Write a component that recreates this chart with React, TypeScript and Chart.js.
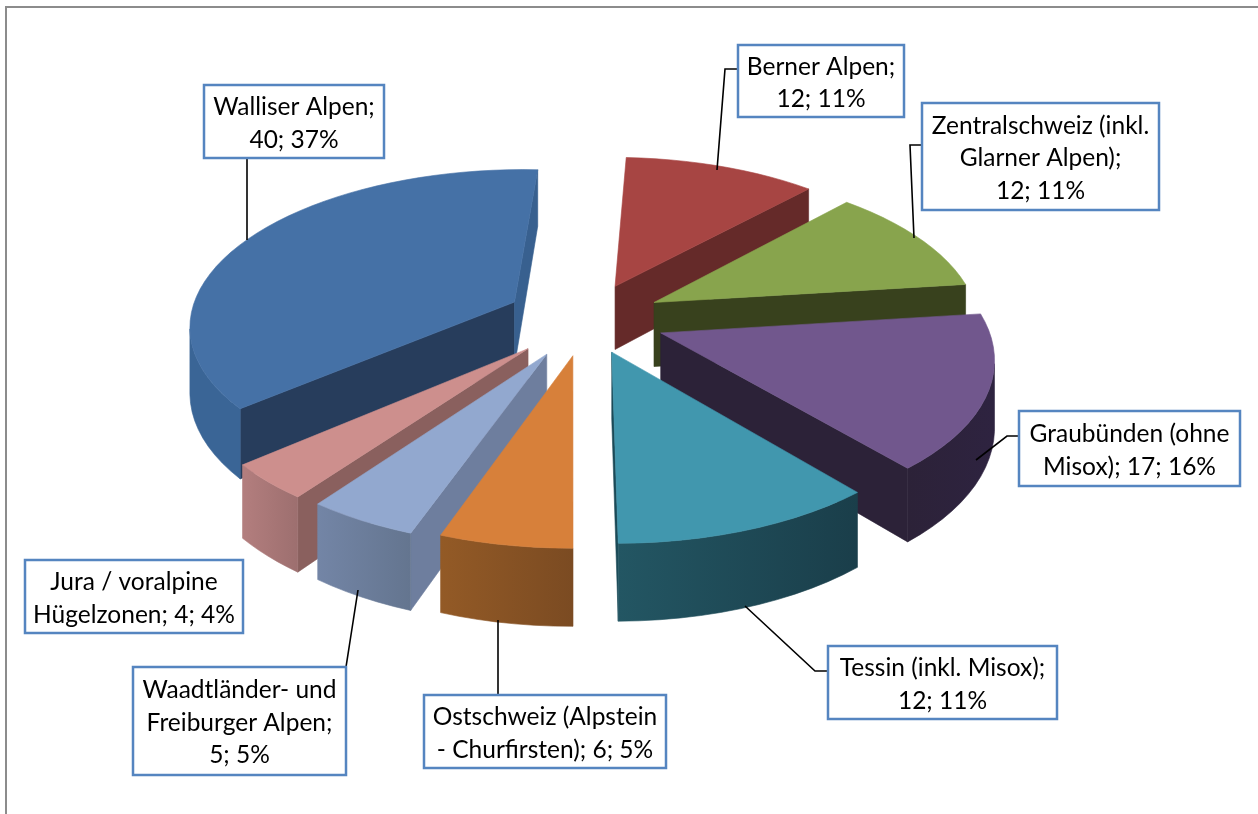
import React, { useEffect, useRef } from "react";
import { Chart, registerables } from "chart.js";

Chart.register(...registerables);

const categories = ["Berner Alpen", "Zentralschweiz (inkl. Glarner Alpen)", "Graubünden (ohne Misox)", "Tessin (inkl. Misox)", "Ostschweiz (Alpstein - Churfirsten)", "Waadtländer- und Freiburger Alpen", "Jura / voralpine Hügelzonen", "Walliser Alpen"];
const values = [12, 12, 17, 12, 6, 5, 4, 40];
const sliceOffsets = [85, 86, 88, 80, 84, 90, 92, 90];
const labelLines = [
  ["Berner Alpen;", "12; 11%"],
  ["Zentralschweiz (inkl.", "Glarner Alpen);", "12; 11%"],
  ["Graubünden (ohne", "Misox); 17; 16%"],
  ["Tessin (inkl. Misox);", "12; 11%"],
  ["Ostschweiz (Alpstein", "- Churfirsten); 6; 5%"],
  ["Waadtländer- und", "Freiburger Alpen;", "5; 5%"],
  ["Jura / voralpine", "Hügelzonen; 4; 4%"],
  ["Walliser Alpen;", "40; 37%"],
];
const topColors = ["#A74543", "#88A44D", "#71578D", "#4197AE", "#D7803A", "#92A8CF", "#CD8F8D", "#4571A6"];
const innerColors = ["#652A29", "#38411D", "#2C2238", "#1B4A57", "#935A26", "#6E7E9E", "#8A605E", "#273D5C"];
const endWallColors = ["#652A29", "#38411D", "#2C2238", "#1B4A57", "#935A26", "#6E7E9E", "#8A605E", "#38608F"];
const rimLeftColors = ["#652A29", "#38411D", "#2C2238", "#235663", "#935A26", "#7385A6", "#B37E7E", "#3A6596"];
const rimRightColors = ["#652A29", "#38411D", "#2E2340", "#1A3E4A", "#7B4B22", "#64758F", "#9D6F6F", "#3A6596"];
const labelBoxes = [
  [738, 45, 904, 117],
  [922, 103, 1159, 210],
  [1019, 411, 1240, 486],
  [828, 646, 1057, 719],
  [424, 695, 666, 768],
  [133, 667, 346, 775],
  [25, 560, 243, 633],
  [204, 85, 384, 158],
];
const leaderLines = [
  [[738, 69], [725, 69], [717, 170]],
  [[922, 145], [910, 145], [914, 238]],
  [[1019, 436], [1007, 436], [976, 460]],
  [[828, 671], [815, 671], [745, 606]],
  [[498, 695], [498, 620]],
  [[346, 667], [358, 590]],
  [],
  [[247, 158], [247, 240]],
];

const CX = 586, CY = 319, SX = 325, SY = 155, PERSP = 0.137, DEPTH = 65;

function project(X: number, Y: number, drop: number) {
  const w = 1 - PERSP * Y;
  return { x: CX + (SX * X) / w, y: CY + (SY * Y) / w + (drop * DEPTH) / w };
}

const pie3d = {
  id: "pie3d",
  beforeDatasetDraw(chart: any) {
    const { ctx } = chart;
    const arcs = chart.getDatasetMeta(0).data as any[];
    const shapes = arcs.map((el, i) => {
      const mid = (el.startAngle + el.endAngle) / 2;
      const ex = (el.options.offset || 0) / el.outerRadius;
      const ox = Math.cos(mid) * ex, oy = Math.sin(mid) * ex;
      const n = Math.max(6, Math.round(((el.endAngle - el.startAngle) / Math.PI) * 60));
      const pts: [number, number][] = [];
      for (let k = 0; k <= n; k++) {
        const a = el.startAngle + ((el.endAngle - el.startAngle) * k) / n;
        pts.push([ox + Math.cos(a), oy + Math.sin(a)]);
      }
      return { i, sort: Math.sin(mid), ox, oy, pts };
    });
    shapes.sort((a, b) => a.sort - b.sort);

    const fillPoly = (poly: { x: number; y: number }[], fill: any) => {
      ctx.beginPath();
      poly.forEach((p, j) => (j ? ctx.lineTo(p.x, p.y) : ctx.moveTo(p.x, p.y)));
      ctx.closePath();
      ctx.fillStyle = fill;
      ctx.strokeStyle = fill;
      ctx.lineWidth = 0.6;
      ctx.fill();
      ctx.stroke();
    };
    const wall = (a: [number, number], b: [number, number], fill: string) => {
      const a0 = project(a[0], a[1], 0), b0 = project(b[0], b[1], 0);
      if (b0.x - a0.x >= 0) return;
      fillPoly([a0, b0, project(b[0], b[1], 1), project(a[0], a[1], 1)], fill);
    };

    ctx.save();
    for (const s of shapes) {
      const apex: [number, number] = [s.ox, s.oy];
      wall(apex, s.pts[0], innerColors[s.i]);
      wall(s.pts[s.pts.length - 1], apex, endWallColors[s.i]);
      const topEdge: { x: number; y: number }[] = [];
      const botEdge: { x: number; y: number }[] = [];
      for (let k = 0; k < s.pts.length - 1; k++) {
        const p = project(s.pts[k][0], s.pts[k][1], 0);
        const q = project(s.pts[k + 1][0], s.pts[k + 1][1], 0);
        if (q.x - p.x < 0) {
          if (!topEdge.length) {
            topEdge.push(p);
            botEdge.push(project(s.pts[k][0], s.pts[k][1], 1));
          }
          topEdge.push(q);
          botEdge.push(project(s.pts[k + 1][0], s.pts[k + 1][1], 1));
        }
      }
      if (topEdge.length) {
        const xs = topEdge.map((p) => p.x);
        const g = ctx.createLinearGradient(Math.min(...xs), 0, Math.max(...xs), 0);
        g.addColorStop(0, rimLeftColors[s.i]);
        g.addColorStop(1, rimRightColors[s.i]);
        fillPoly([...topEdge, ...botEdge.reverse()], g);
      }
      fillPoly([project(apex[0], apex[1], 0), ...s.pts.map((p) => project(p[0], p[1], 0))], topColors[s.i]);
    }
    ctx.restore();
    return false;
  },
  afterDatasetsDraw(chart: any) {
    const { ctx } = chart;
    ctx.save();
    ctx.strokeStyle = "#8C8C8C";
    ctx.lineWidth = 2;
    ctx.beginPath();
    ctx.moveTo(6, 814);
    ctx.lineTo(6, 7);
    ctx.lineTo(1258, 7);
    ctx.stroke();

    ctx.strokeStyle = "#000000";
    ctx.lineWidth = 1.6;
    leaderLines.forEach((line) => {
      ctx.beginPath();
      line.forEach((p, j) => (j ? ctx.lineTo(p[0], p[1]) : ctx.moveTo(p[0], p[1])));
      ctx.stroke();
    });

    ctx.font = "24.5px Lato";
    ctx.textAlign = "center";
    ctx.textBaseline = "middle";
    labelBoxes.forEach((b, i) => {
      ctx.fillStyle = "#FFFFFF";
      ctx.fillRect(b[0], b[1], b[2] - b[0], b[3] - b[1]);
      ctx.strokeStyle = "#5585C0";
      ctx.lineWidth = 2.5;
      ctx.strokeRect(b[0], b[1], b[2] - b[0], b[3] - b[1]);
      ctx.fillStyle = "#000000";
      const lines = labelLines[i];
      const lh = 32.5;
      const cy = (b[1] + b[3]) / 2 + 2 - ((lines.length - 1) * lh) / 2;
      lines.forEach((t, j) => ctx.fillText(t, (b[0] + b[2]) / 2, cy + j * lh));
    });
    ctx.restore();
  },
};

export default function App() {
  const ref = useRef<HTMLCanvasElement | null>(null);
  useEffect(() => {
    const chart = new Chart(ref.current as HTMLCanvasElement, {
      type: "pie",
      data: {
        labels: categories,
        datasets: [{ data: values, backgroundColor: topColors, offset: sliceOffsets, borderWidth: 0 } as any],
      },
      options: {
        animation: false,
        responsive: false,
        rotation: 3,
        plugins: { legend: { display: false }, tooltip: { enabled: false } },
      } as any,
      plugins: [pie3d as any],
    });
    return () => chart.destroy();
  }, []);
  return (
    <canvas
      ref={ref}
      width={1258}
      height={814}
      style={{ position: "fixed", left: 0, top: 0, width: 1258, height: 814, background: "#fff" }}
    />
  );
}
